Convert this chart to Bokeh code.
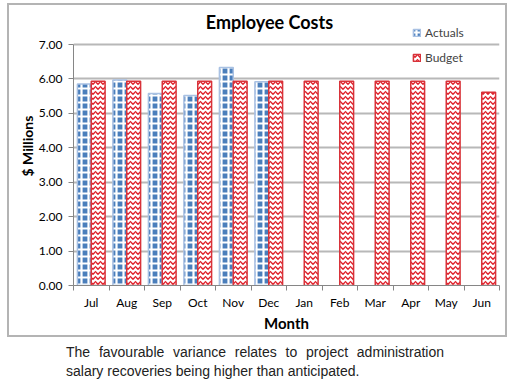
import numpy as np
from bokeh.plotting import figure
from bokeh.models import (ColumnDataSource, FixedTicker, NumeralTickFormatter,
                          Legend, LegendItem, Range1d, Div, Label)
from bokeh.layouts import column
from bokeh.embed import file_html
from bokeh.resources import INLINE

months = ["Jul", "Aug", "Sep", "Oct", "Nov", "Dec", "Jan", "Feb", "Mar", "Apr", "May", "Jun"]
actuals = [5.85, 5.97, 5.58, 5.52, 6.33, 5.92]
budget = [5.93, 5.93, 5.93, 5.93, 5.93, 5.93, 5.93, 5.93, 5.93, 5.93, 5.93, 5.61]
y_ticks = [0, 1, 2, 3, 4, 5, 6, 7]
caption = ("The favourable variance relates to project administration "
           "salary recoveries being higher than anticipated.")

idx = np.arange(len(months)) + 0.5
src_a = ColumnDataSource(dict(x=idx[:len(actuals)] - 0.195, top=actuals))
src_b = ColumnDataSource(dict(x=idx + 0.195, top=budget))

# frame spans 279 px vertically, of which 241 px hold 0..7
y_top = y_ticks[-1] * 279 / 241

G = "linear-gradient(#b4b4b4,#b4b4b4)"
p = figure(width=510, height=340, output_backend="svg", toolbar_location=None,
           x_range=Range1d(0, len(months)), y_range=Range1d(0, y_top),
           min_border_left=73, min_border_right=11, min_border_top=6, min_border_bottom=55,
           background_fill_color="white", border_fill_color=None)
p.outline_line_color = None
p.styles = {"background": (f"{G} 7px 3px / 500px 2px no-repeat, {G} 7px 335px / 500px 2px no-repeat, "
                           f"{G} 7px 3px / 2px 334px no-repeat, {G} 505px 3px / 2px 334px no-repeat, white")}

ra = p.vbar(x="x", top="top", width=0.39, source=src_a, fill_color="#4a7ebb",
            hatch_pattern="cross", hatch_color="white",
            hatch_scale=7, hatch_weight=2.2, line_color="#a9c1e3", line_width=1.5)
rb = p.vbar(x="x", top="top", width=0.39, source=src_b, fill_color="white",
            hatch_pattern="horizontal_wave", hatch_color="#e0222c",
            hatch_scale=5, hatch_weight=1.4, line_color="#d8333a", line_width=1.5)

p.yaxis.ticker = FixedTicker(ticks=y_ticks)
p.yaxis.bounds = (y_ticks[0], y_ticks[-1])
p.yaxis.formatter = NumeralTickFormatter(format="0.00")
p.yaxis.axis_label = "$ Millions"
p.xaxis.axis_label = "Month"
p.xaxis.ticker = FixedTicker(ticks=list(idx), minor_ticks=list(range(len(months) + 1)))
p.xaxis.major_label_overrides = {float(v): m for v, m in zip(idx, months)}
p.xaxis.major_tick_out = 0
p.xaxis.major_tick_in = 0
p.xaxis.minor_tick_out = 5
p.xaxis.minor_tick_in = 0
p.xaxis.minor_tick_line_color = "#868686"
p.yaxis.major_tick_out = 5
p.yaxis.major_tick_in = 0
p.yaxis.minor_tick_line_color = None
for ax in (p.xaxis[0], p.yaxis[0]):
    ax.axis_line_color = "#868686"
    ax.major_label_text_font = "Lato"
    ax.major_label_text_font_size = "12px"
    ax.major_label_text_color = "#000000"
    ax.axis_label_text_font = "Lato"
    ax.axis_label_text_font_style = "bold"
    ax.axis_label_text_color = "#000000"
p.yaxis.major_tick_line_color = "#868686"
p.xaxis.major_tick_line_color = None
p.xaxis.axis_label_text_font_size = "15px"
p.yaxis.axis_label_text_font_size = "14px"
p.xaxis.major_label_standoff = 4
p.xaxis.axis_label_standoff = 1
p.yaxis.major_label_standoff = 6
p.yaxis.axis_label_standoff = 0

p.xgrid.grid_line_color = None
p.ygrid.grid_line_color = "#b8b8b8"
p.ygrid.grid_line_width = 2

p.add_layout(Label(x=5.52, y=7.668, text="Employee Costs", text_font="Lato",
                   text_font_size="18px", text_font_style="bold", text_align="center",
                   text_baseline="middle", text_color="#000000"))

legend = Legend(items=[LegendItem(label="Actuals", renderers=[ra]),
                       LegendItem(label="Budget", renderers=[rb])],
                location=(339, 218), padding=0, margin=0, spacing=5,
                glyph_width=9, glyph_height=9, label_height=20, label_standoff=4,
                label_text_font="Lato", label_text_font_size="12px",
                background_fill_alpha=0, border_line_color=None)
p.add_layout(legend)

cap = Div(text=("<div style=\"font-family:'Liberation Sans',Arial,sans-serif;font-size:14px;"
                "line-height:19px;color:#222;text-align:justify;width:378px;\">"
                + caption + "</div>"),
          width=420, height=42, margin=(3, 0, 0, 66))

open("out.html", "w").write(file_html(column(p, cap), INLINE))
